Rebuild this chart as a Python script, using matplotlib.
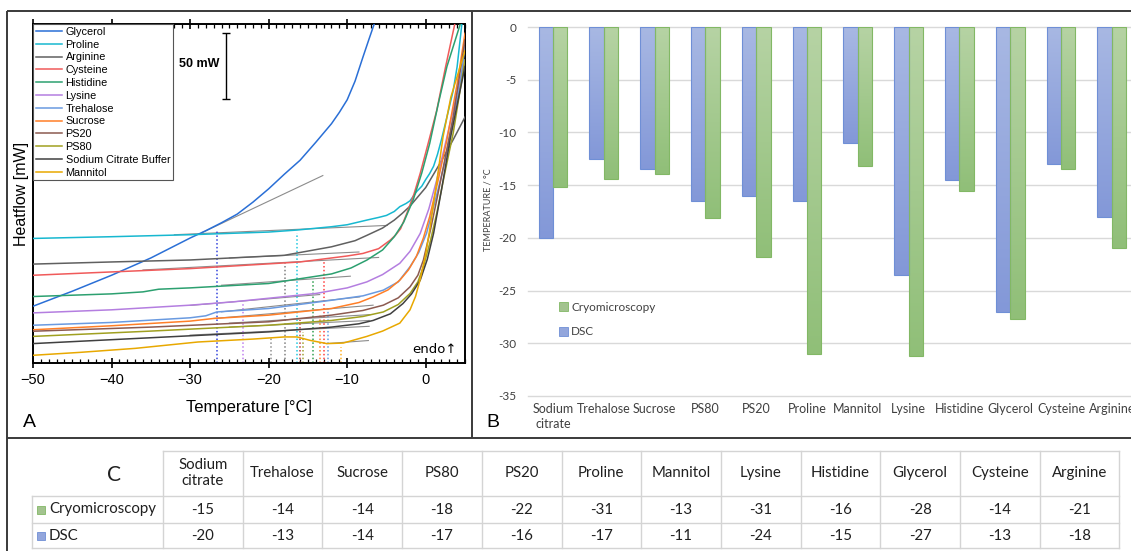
import numpy as np
import matplotlib
matplotlib.use("Agg")
import matplotlib.pyplot as plt
from matplotlib.ticker import MultipleLocator
from matplotlib.colors import LinearSegmentedColormap
from matplotlib.patches import Patch, Rectangle

# ---------------- data: panel A (DSC heat flow curves) ----------------
curve_names = ["Glycerol", "Proline", "Arginine", "Cysteine", "Histidine", "Lysine",
               "Trehalose", "Sucrose", "PS20", "PS80", "Sodium Citrate Buffer", "Mannitol"]
curve_colors = ["#2a6fd6", "#17b8d0", "#606060", "#f05a5a", "#2ca070", "#b47ee0",
                "#6a9ae0", "#ff7f27", "#8c5a50", "#a0a020", "#404040", "#e8a800"]

glycerol_T = [-50, -45, -40, -35, -30, -28, -26, -24, -22, -20, -18, -16, -14, -12, -11,
              -10, -9, -8, -7.2, -6.5]
glycerol_hf = [42.7, 54, 66, 79, 94, 99.5, 105.5, 112, 121, 131, 142, 152.5, 166, 180, 188.5,
               198, 212, 230, 244, 256]
proline_T = [-50, -40, -30, -20, -16.4, -12, -10, -7.5, -6, -5, -4, -3.3, -2.5, -2, -1.15,
             -0.5, 0, 0.5, 1, 1.5, 2, 2.7, 3.5, 4, 4.6]
proline_hf = [93.7, 95, 96.5, 98.5, 100, 102.5, 104, 107.5, 109.5, 111, 114, 117.6, 120, 122,
              129, 133, 138, 142.5, 148, 157, 168, 185, 205, 223, 255]
arginine_T = [-50, -40, -30, -18, -12, -9, -7.5, -5.5, -4, -3, -2, -1, 0, 0.5, 2, 3.5, 5]
arginine_hf = [74.4, 76, 77.5, 81, 87.4, 92, 96, 101.5, 107.5, 112.5, 118, 125, 132, 137,
               152, 168, 185]
cysteine_T = [-50, -40, -30, -16, -10, -8, -6, -4.5, -3.8, -3.2, -2.4, -1.5, -0.7, 0.3, 1.4,
              2.5, 3.7]
cysteine_hf = [66, 68.5, 71, 76, 80.5, 82.4, 86, 92.5, 96.5, 101, 112.6, 127, 142.7, 165, 190,
               222, 255]
histidine_T = [-50, -40, -36, -34, -30, -20, -12, -9.5, -7.5, -5.5, -4, -2.8, -1.6, -0.5, 0.5,
               1.6, 2.7, 4.4]
histidine_hf = [50, 52, 53.5, 55.5, 56.5, 59.8, 67, 71.5, 77.4, 85, 95, 106, 122.6, 143, 165,
                195, 223, 255]
lysine_T = [-50, -40, -30, -24.5, -14, -10, -7.5, -5.5, -3.3, -2, -0.7, 0.4, 1.4, 2.7, 4, 5]
lysine_hf = [37.7, 40, 43.5, 46, 52.3, 56.5, 61, 66.5, 75, 84, 97.5, 116, 137.7, 170, 203, 228]
trehalose_T = [-50, -40, -30, -28, -26.6, -20, -12, -8, -5.4, -3.5, -2, -0.9, 0.1, 1.2, 2.3,
               3.3, 4.4, 5]
trehalose_hf = [28.4, 30.5, 34, 35.5, 38.4, 41, 47.2, 50.5, 54.8, 61, 72.4, 83, 97.5, 122,
                147.7, 178, 210, 238]
sucrose_T = [-50, -40, -30, -27, -20, -12, -8.5, -6.7, -4.8, -3.3, -2.2, -1.2, -0.3, 0.5, 1.6,
             2.7, 4, 5]
sucrose_hf = [25, 28, 31.5, 33.5, 36, 41, 45.5, 49.7, 55, 62.3, 70, 80, 94, 110, 138, 168, 210,
              248]
ps20_T = [-50, -35, -20, -12, -8, -5.4, -3.5, -2, -1, -0.3, 0.6, 1.4, 2.4, 3.5, 5]
ps20_hf = [23.9, 27, 31, 36, 39.5, 43.5, 49, 57.3, 66, 77.4, 100, 122.6, 152, 185, 243]
ps80_T = [-50, -35, -20, -12, -8, -5.4, -3.5, -2, -1, -0.3, 0.6, 1.4, 2.4, 3.5, 5]
ps80_hf = [20, 24, 28.4, 32, 35, 38.4, 44, 52.3, 61, 72.4, 92, 112.6, 142, 173, 228]
citrate_T = [-50, -35, -20, -12, -8.5, -6.7, -4.5, -2.9, -1.8, -0.7, 0.2, 1, 2, 3.1, 4.2, 5]
citrate_hf = [14.6, 19, 23.4, 27, 29.5, 32, 37, 44.7, 52, 62.3, 78, 97.5, 130, 168, 200, 223]
mannitol_T = [-50, -44, -37, -29, -22, -18, -16.4, -14.7, -12.6, -10.5, -7.5, -5.5, -3.3,
              -2, -1.3, -0.7, 0, 0.5, 1.3, 2.2, 3.2, 5]
mannitol_hf = [5.8, 8, 11, 15.8, 18, 19.6, 19.6, 17, 14.6, 15, 20, 24, 30,
               40, 50, 63, 82, 100, 132, 170, 200, 235]

curves_T = [glycerol_T, proline_T, arginine_T, cysteine_T, histidine_T, lysine_T,
            trehalose_T, sucrose_T, ps20_T, ps80_T, citrate_T, mannitol_T]
curves_hf = [glycerol_hf, proline_hf, arginine_hf, cysteine_hf, histidine_hf, lysine_hf,
             trehalose_hf, sucrose_hf, ps20_hf, ps80_hf, citrate_hf, mannitol_hf]

# baseline tangents (grey)
tan_T0 = [-28.5, -32, -25, -36, -26, -30, -26, -27, -25, -25, -30, -12.6]
tan_T1 = [-13.1, -4.9, -8.5, -6.0, -9.6, -13.5, -8.4, -6.7, -7.1, -7.2, -7.2, -7.3]
tan_h0 = [98, 96.5, 79, 70, 58.5, 43.3, 38.5, 33.5, 30, 27, 21, 14.6]
tan_h1 = [141, 103.5, 83.5, 79.4, 65.3, 51.5, 49.7, 43.5, 36.4, 32, 27.6, 16.9]

# onset markers (dotted verticals)
onset_T = [-26.55, -23.3, -19.75, -17.9, -16.4, -16.0, -15.6, -14.4, -13.5, -13.0, -12.5, -10.8]
onset_top = [100, 44.7, 19.6, 75, 97.5, 32, 23.4, 62.3, 37, 77.4, 42.2, 12]
onset_colors = ["#3344dd", "#c080f0", "#909090", "#808080", "#20c8e0", "#c04040",
                "#a0a030", "#30a050", "#ff8030", "#ff4040", "#60a0e0", "#ffb020"]

# ---------------- data: panel B / C ----------------
samples = ["Sodium\ncitrate", "Trehalose", "Sucrose", "PS80", "PS20", "Proline",
           "Mannitol", "Lysine", "Histidine", "Glycerol", "Cysteine", "Arginine"]
dsc = [-20, -12.5, -13.5, -16.5, -16, -16.5, -11, -23.5, -14.5, -27, -13, -18]
cryo = [-15.2, -14.4, -13.9, -18.1, -21.8, -31, -13.2, -31.2, -15.6, -27.7, -13.5, -21]
dsc_table = [-20, -13, -14, -17, -16, -17, -11, -24, -15, -27, -13, -18]
cryo_table = [-15, -14, -14, -18, -22, -31, -13, -31, -16, -28, -14, -21]
b_yticks = [0, -5, -10, -15, -20, -25, -30, -35]

W, H = 1131, 551
fig = plt.figure(figsize=(W / 100, H / 100), dpi=100)

# overlay in pixel coordinates for frames and the table
bg = fig.add_axes([0, 0, 1, 1])
bg.set_xlim(0, W)
bg.set_ylim(H, 0)
bg.axis("off")
bg.patch.set_visible(False)
frame_kw = dict(color="#3a3a3a", lw=1.4, solid_capstyle="butt")
bg.plot([7, W], [11, 11], **frame_kw)
bg.plot([7, 7], [11, H], **frame_kw)
bg.plot([472, 472], [11, 438], **frame_kw)
bg.plot([7, W], [438, 438], **frame_kw)

# ---------------- panel A ----------------
axA = fig.add_axes([33 / W, 1 - 363 / H, 432 / W, 339 / H])
for T, hf, c, name in zip(curves_T, curves_hf, curve_colors, curve_names):
    axA.plot(T, hf, color=c, lw=1.1, label=name, zorder=3)
for t0, t1, h0, h1 in zip(tan_T0, tan_T1, tan_h0, tan_h1):
    axA.plot([t0, t1], [h0, h1], color="#8c8c8c", lw=0.8, zorder=2)
for t, top, c in zip(onset_T, onset_top, onset_colors):
    axA.plot([t, t], [0, top], color=c, lw=1.1, ls=(0, (1, 1.5)), zorder=2)

axA.set_xlim(-50, 5)
axA.set_ylim(0, 255)
axA.set_yticks([])
axA.xaxis.set_major_locator(MultipleLocator(10))
axA.xaxis.set_minor_locator(MultipleLocator(1))
axA.tick_params(axis="x", which="major", direction="inout", length=7, width=1.2,
                top=True, labelsize=10.5, pad=4)
axA.tick_params(axis="x", which="minor", direction="in", length=3, width=0.9, top=True)
for s in axA.spines.values():
    s.set_linewidth(1.4)
for lab in axA.get_xticklabels():
    lab.set_family("Liberation Sans")
axA.set_xlabel("Temperature [°C]", fontsize=12, family="Liberation Sans", labelpad=9)
axA.set_ylabel("Heatflow [mW]", fontsize=11.5, family="Liberation Sans", labelpad=3)

leg = axA.legend(loc="upper left", bbox_to_anchor=(0, 1), borderaxespad=0, fancybox=False,
                 prop={"family": "Liberation Sans", "size": 7.8}, labelspacing=0.26,
                 handlelength=2.4, handletextpad=0.35, borderpad=0.25, framealpha=1)
leg.get_frame().set_edgecolor("#555555")
leg.get_frame().set_linewidth(0.8)

axA.errorbar([-25.4], [223.5], yerr=[25], color="black", lw=1, capsize=3, capthick=1)
axA.text(-28.8, 225, "50 mW", fontsize=9, fontweight="bold", ha="center", va="center",
         family="Liberation Sans")
axA.text(3.9, 10, "endo\u2191", fontsize=9.5, ha="right", va="center", family="DejaVu Sans")
fig.text(23 / W, 1 - 427 / H, "A", fontsize=14, family="Liberation Sans")

# ---------------- panel B ----------------
axB = fig.add_axes([527.6 / W, 1 - 396 / H, 609.6 / W, 369 / H])
axB.patch.set_visible(False)
x = np.arange(len(samples))
bw = 0.285
bars_dsc = axB.bar(x - bw / 2, dsc, bw, color="none", edgecolor="#6f8fd6", lw=0.8,
                   label="DSC", zorder=3)
bars_cryo = axB.bar(x + bw / 2, cryo, bw, color="none", edgecolor="#82b865", lw=0.8,
                    label="Cryomicroscopy", zorder=3)
grad = np.linspace(0, 1, 128).reshape(-1, 1)
cmap_b = LinearSegmentedColormap.from_list("b", ["#a8b8e3", "#8398d8"])
cmap_g = LinearSegmentedColormap.from_list("g", ["#b6d3a4", "#90bf78"])
for bars, cm in ((bars_dsc, cmap_b), (bars_cryo, cmap_g)):
    for r in bars:
        axB.imshow(grad, extent=[r.get_x(), r.get_x() + r.get_width(), r.get_height(), 0],
                   origin="upper", cmap=cm, aspect="auto", zorder=2, interpolation="bilinear")
axB.set_xlim(-0.5, len(samples) - 0.5)
axB.set_ylim(-35, 0)
axB.set_yticks(b_yticks)
axB.set_yticklabels([str(v) for v in b_yticks])
axB.set_xticks(x)
axB.set_xticklabels(samples, fontsize=9, family="Lato", color="#404040", linespacing=1.3)
axB.tick_params(length=0)
axB.tick_params(axis="y", pad=8, labelsize=8.5, labelcolor="#404040")
axB.tick_params(axis="x", pad=5)
for lab in axB.get_yticklabels():
    lab.set_family("Lato")
for s in axB.spines.values():
    s.set_visible(False)
axB.yaxis.grid(True, color="#d9d9d9", lw=1)
axB.set_axisbelow(True)
for gl in axB.get_ygridlines():
    gl.set_clip_on(False)

handlesB = [Patch(facecolor="#a3c38f", edgecolor="#82b865", lw=0.6),
            Patch(facecolor="#93a6dc", edgecolor="#6f8fd6", lw=0.6)]
fig.legend(handlesB, ["Cryomicroscopy", "DSC"], loc="upper left",
           bbox_to_anchor=(553 / W, 1 - 296 / H), frameon=False,
           prop={"family": "Lato", "size": 8.5}, handlelength=0.75, handleheight=0.75,
           handletextpad=0.3, labelspacing=1.15, borderpad=0, labelcolor="#404040")
fig.text(488 / W, 1 - 210 / H, "TEMPERATURE / °C", rotation=90, fontsize=6.5, ha="center",
         va="center", color="#404040", family="Lato")
fig.text(486 / W, 1 - 427 / H, "B", fontsize=14, family="Liberation Sans")

# ---------------- panel C (table) ----------------
x0, colw = 163, 79.7
y_head, y_r1, y_r2, y_end = 450.7, 496, 523, 548
lab_x0 = 32
grid_kw = dict(color="#d4d4d4", lw=1)
ncol = len(samples)
x_end = x0 + ncol * colw
bg.plot([x0, x_end], [y_head, y_head], **grid_kw)
for yy in (y_r1, y_r2, y_end):
    bg.plot([lab_x0, x_end], [yy, yy], **grid_kw)
bg.plot([lab_x0, lab_x0], [y_r1, y_end], **grid_kw)
for i in range(ncol + 1):
    bg.plot([x0 + i * colw, x0 + i * colw], [y_head, y_end], **grid_kw)

tkw = dict(family="Lato", fontsize=10.8, ha="center", va="center", color="#202020")
for i, name in enumerate(samples):
    cx = x0 + (i + 0.5) * colw
    bg.text(cx, (y_head + y_r1) / 2, name, linespacing=1.2, **tkw)
    bg.text(cx, (y_r1 + y_r2) / 2, str(cryo_table[i]), **tkw)
    bg.text(cx, (y_r2 + y_end) / 2, str(dsc_table[i]), **tkw)

row_labels = ["Cryomicroscopy", "DSC"]
row_face = ["#a3c38f", "#93a6dc"]
row_edge = ["#82b865", "#6f8fd6"]
for lab, fc, ec, (ya, yb) in zip(row_labels, row_face, row_edge, [(y_r1, y_r2), (y_r2, y_end)]):
    cy = (ya + yb) / 2
    bg.add_patch(Rectangle((37, cy - 4), 8, 8, facecolor=fc, edgecolor=ec, lw=0.6))
    bg.text(49, cy, lab, family="Lato", fontsize=10.8, ha="left", va="center", color="#202020")
bg.text(114, 475, "C", family="Lato", fontsize=15, ha="center", va="center", color="#202020")

fig.savefig("out.png", dpi=100)
